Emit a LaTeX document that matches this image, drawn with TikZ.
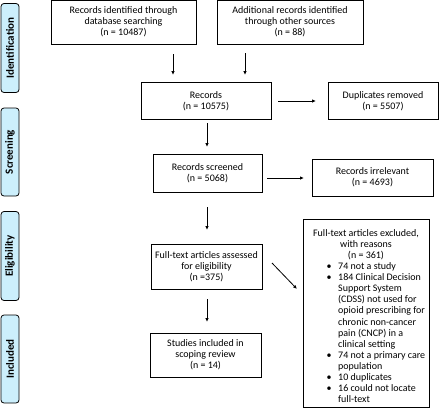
\documentclass[tikz,border=0pt]{standalone}
\usepackage{fontspec}
\setmainfont{Carlito}
\usetikzlibrary{arrows.meta}
\begin{document}
\begin{tikzpicture}[x=1pt,y=-1pt,
  box/.style={draw,line width=0.8pt,align=center,font=\fontsize{10}{11}\selectfont,inner sep=1pt},
  side/.style={draw,line width=0.8pt,rounded corners=3pt,fill=cyan!20,minimum width=18pt},
  sidetext/.style={rotate=90,font=\fontsize{11}{12}\selectfont\bfseries},
  listtext/.style={font=\fontsize{10}{11.1}\selectfont,inner sep=0pt},
  arr/.style={-{Latex[length=4pt,width=3.5pt]},line width=0.8pt}]
\useasboundingbox (0,0) rectangle (440,408);
% side labels
\node[side,minimum height=89pt] (sid) at (10,48) {};
\node[sidetext] at (sid) {Identification};
\node[side,minimum height=88pt] (sscr) at (10,152) {};
\node[sidetext] at (sscr) {Screening};
\node[side,minimum height=89pt] (selig) at (10,256) {};
\node[sidetext] at (selig) {Eligibility};
\node[side,minimum height=88pt] (sinc) at (10,359) {};
\node[sidetext] at (sinc) {Included};
% boxes
\node[box,minimum width=145pt,minimum height=44pt] (db) at (123.5,22) {Records identified through\\database searching\\(n = 10487)};
\node[box,minimum width=146pt,minimum height=44pt] (oth) at (290,22) {Additional records identified\\through other sources\\(n = 88)};
\node[box,minimum width=130pt,minimum height=37pt] (rec) at (206,101) {Records\\(n = 10575)};
\node[box,minimum width=110pt,minimum height=37pt] (dup) at (383,101) {Duplicates removed\\(n = 5507)};
\node[box,minimum width=109pt,minimum height=38pt] (scr) at (207.5,173) {Records screened\\(n = 5068)};
\node[box,minimum width=121pt,minimum height=37pt] (irr) at (372.5,177.5) {Records irrelevant\\(n = 4693)};
\node[box,minimum width=111pt,minimum height=45pt] (full) at (206.5,266.5) {Full-text articles assessed\\for eligibility\\(n =375)};
\node[box,minimum width=126pt,minimum height=188pt] (exc) at (366,313) {};
\node[listtext,anchor=base] (exct) at (366,236) {\begin{tabular}[t]{@{}c@{}}Full-text articles excluded,\\with reasons\\(n = 361)\end{tabular}};
\node[listtext,anchor=base west] (excl) at (326.5,269.5) {\begin{tabular}[t]{@{}l@{\hspace{6.5pt}}l@{}}
\textbullet & 74 not a study\\
\textbullet & 184 Clinical Decision\\
 & Support System\\
 & (CDSS) not used for\\
 & opioid prescribing for\\
 & chronic non-cancer\\
 & pain (CNCP) in a\\
 & clinical setting\\
\textbullet & 74 not a primary care\\
 & population\\
\textbullet & 10 duplicates\\
\textbullet & 16 could not locate\\
 & full-text
\end{tabular}};
\node[box,minimum width=111pt,minimum height=44pt] (inc) at (205.5,355) {Studies included in\\scoping review\\(n = 14)};
% arrows
\coordinate (a1s) at (173,54); \coordinate (a1e) at (173,75);
\coordinate (a2s) at (245,53); \coordinate (a2e) at (245,75);
\draw[arr] (a1s) -- (a1e);
\draw[arr] (a2s) -- (a2e);
\coordinate (a3s) at (278,101); \coordinate (a3e) at (316,101);
\draw[arr] (a3s) -- (a3e);
\coordinate (a4s) at (207,123); \coordinate (a4e) at (207,147);
\draw[arr] (a4s) -- (a4e);
\coordinate (a5s) at (267,178); \coordinate (a5e) at (304,178);
\draw[arr] (a5s) -- (a5e);
\coordinate (a6s) at (207,207); \coordinate (a6e) at (207,230);
\draw[arr] (a6s) -- (a6e);
\coordinate (a7s) at (272,263); \coordinate (a7e) at (297,289);
\draw[arr] (a7s) -- (a7e);
\coordinate (a8s) at (207,299); \coordinate (a8e) at (207,322);
\draw[arr] (a8s) -- (a8e);
\end{tikzpicture}
\end{document}
